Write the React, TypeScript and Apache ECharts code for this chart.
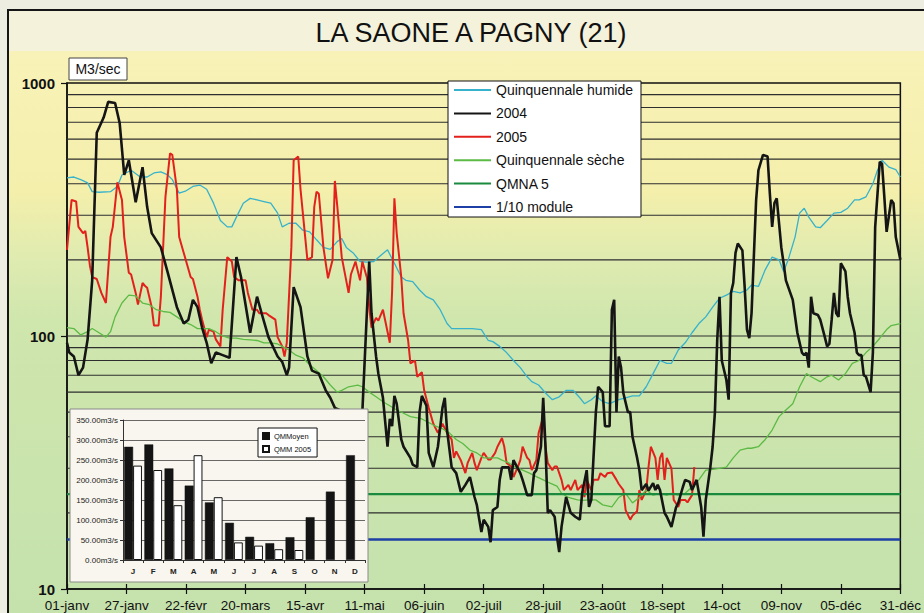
import React, { useEffect, useRef } from 'react';
import * as echarts from 'echarts';

const FONT = 'Liberation Sans, Arial, Helvetica, sans-serif';

const titleText = 'LA SAONE A PAGNY (21)';
const unitText = 'M3/sec';
const tickLabels = ['01-janv', '27-janv', '22-févr', '20-mars', '15-avr', '11-mai', '06-juin', '02-juil', '28-juil', '23-août', '18-sept', '14-oct', '09-nov', '05-déc', '31-déc'];
const dayMax = 364;
const tickStep = 26;
const gridValues = [20, 30, 40, 50, 60, 70, 80, 90, 100, 200, 300, 400, 500, 600, 700, 800, 900];

const qmna5 = 23.7;
const module10 = 15.7;

const humide: [number, number][] = [[0,422],[3,425],[6,415],[9,403],[11,372],[14,370],[19,372],[22,390],[24,433],[28,452],[32,425],[35,425],[38,441],[41,445],[44,433],[46,415],[49,367],[52,375],[55,390],[58,395],[61,380],[64,335],[67,286],[70,270],[72,270],[74,295],[77,335],[80,350],[83,345],[86,340],[89,335],[92,306],[94,270],[97,279],[100,279],[103,262],[106,258],[109,240],[112,224],[115,220],[118,236],[120,243],[122,224],[125,213],[128,197],[131,196],[134,197],[137,208],[140,219],[143,194],[146,171],[148,166],[151,164],[154,152],[157,143],[160,139],[163,127],[166,112],[168,107],[173,107],[177,107],[181,106],[184,96],[186,95],[189,91],[192,86],[195,80],[198,75],[201,69],[203,66],[206,64],[209,59.5],[212,56],[215,57.5],[218,61],[221,61],[224,57],[226,54],[229,56],[231,58],[234,55],[237,54],[241,56],[244,57],[247,58],[250,58],[253,63],[256,71],[259,80],[262,78],[264,78],[267,88],[270,94],[273,103],[276,112],[279,119],[282,130],[285,141],[288,145],[291,150],[294,148],[297,152],[299,159],[302,157],[305,183],[308,205],[311,200],[313,180],[315,200],[318,246],[320,306],[322,320],[324,295],[327,270],[329,268],[332,286],[335,306],[338,308],[341,320],[344,345],[346,345],[349,355],[352,400],[354,452],[356,495],[359,465],[362,455],[364,425]];

const y2004: [number, number][] = [[0,94],[1,86],[3,83],[5,70],[7,75],[9,97],[11,166],[13,636],[16,730],[18,842],[21,834],[23,695],[25,433],[27,495],[30,338],[33,465],[35,324],[37,255],[41,224],[44,178],[48,130],[51,112],[53,116],[55,139],[57,130],[59,108],[61,94],[63,78],[65,86],[68,84],[71,82],[74,205],[76,171],[80,103],[83,143],[85,123],[88,99],[92,83],[94,79],[96,70],[97,75],[99,156],[102,130],[105,83],[107,73],[110,71],[113,61],[115,57],[117,52],[119,51],[122,47],[127,46],[129,50],[132,197],[133,123],[135,83],[136,71],[138,57],[140,36.5],[141,47],[142,44],[143,58],[144,54],[146,39],[147,36.5],[150,33],[151,31],[153,30.3],[154,50],[155,58],[157,53],[158,34.5],[160,30.3],[162,36.5],[164,52],[165,57],[166,42.5],[168,30.3],[170,28.7],[172,24.2],[174,25.8],[176,27.7],[178,23.1],[179,21.5],[181,16.8],[182,18.8],[184,17.6],[185,15.3],[186,20.5],[188,21.1],[189,27],[190,30.3],[193,30.3],[194,27],[195,32.3],[198,28.7],[199,27],[201,23.5],[203,23.5],[204,28.7],[205,29.5],[207,36.5],[208,57],[209,36.5],[210,20],[211,20.5],[213,19.3],[214,16.1],[215,14],[216,17.6],[218,23.1],[220,20],[222,19.3],[224,18.8],[225,23.9],[227,29.5],[228,21.1],[229,22.5],[231,50],[232,63],[234,60],[235,44],[237,44],[238,127],[239,139],[240,50],[241,83],[242,75],[243,59.5],[245,50],[246,50],[247,40],[249,33],[250,29.5],[251,24.6],[253,26],[254,24.5],[256,26.2],[257,24.6],[258,25.8],[259,24.6],[261,20],[262,19.3],[264,17.6],[266,21],[267,21.9],[269,25.3],[270,27],[272,26.5],[273,24.6],[275,27],[276,23.9],[277,21.1],[278,16.1],[279,22.5],[281,30.3],[282,36.5],[283,50],[284,96],[285,143],[286,80],[288,67],[289,56],[290,148],[291,162],[292,213],[293,232],[295,218],[296,156],[297,106],[298,98],[299,123],[301,344],[302,452],[304,520],[306,512],[307,365],[308,270],[309,335],[310,350],[312,224],[313,194],[314,166],[317,139],[319,103],[321,86],[322,84],[323,86],[324,75],[325,143],[326,123],[328,121],[329,116],[331,99],[332,91],[333,93],[334,116],[335,148],[336,123],[337,119],[338,194],[340,180],[341,143],[342,123],[344,103],[345,86],[346,84],[347,84],[348,70],[349,69],[351,60],[352,86],[353,270],[355,488],[356,480],[357,355],[358,258],[360,345],[361,335],[362,246],[364,200]];

const y2005: [number, number][] = [[0,219],[2,345],[4,340],[5,270],[7,255],[8,260],[9,224],[10,190],[11,171],[13,168],[15,148],[17,135],[19,246],[20,270],[22,405],[24,345],[25,246],[27,178],[28,175],[30,148],[31,133],[33,162],[34,158],[35,155],[37,130],[38,110],[40,110],[41,143],[43,355],[45,527],[46,520],[48,380],[49,246],[51,213],[54,171],[55,168],[57,143],[58,127],[59,116],[61,99],[62,106],[64,104],[65,97],[67,91],[68,127],[70,205],[72,197],[73,171],[75,166],[78,166],[79,148],[81,127],[83,127],[84,123],[87,123],[88,121],[91,116],[92,99],[94,91],[95,83],[96,94],[98,224],[99,495],[101,512],[102,380],[105,200],[107,205],[108,324],[109,372],[110,365],[112,224],[114,169],[116,200],[117,410],[118,330],[120,205],[123,148],[124,175],[126,197],[128,166],[129,197],[131,170],[132,130],[133,108],[135,118],[136,115],[138,127],[140,104],[141,94],[142,150],[143,350],[144,255],[146,171],[147,123],[149,96],[150,78],[152,80],[153,69],[155,72],[156,61],[158,52],[160,45],[162,41.4],[164,45],[166,41.4],[168,39],[169,33],[170,35],[172,32.3],[174,28.7],[175,31.5],[177,34.5],[178,31.5],[179,29.5],[181,33],[182,34.5],[184,32.5],[185,32.5],[187,34.5],[188,36.5],[190,39.5],[191,36.5],[192,31.5],[194,30.5],[195,27.7],[197,30.5],[198,32.3],[199,36.5],[201,33],[202,32.3],[203,29.5],[205,32.3],[206,41.4],[208,48],[209,36.5],[210,31.5],[212,29.5],[213,30.5],[214,30.5],[216,27],[217,24.6],[219,25.8],[220,24.6],[222,27],[223,24.6],[225,25.8],[226,23.1],[227,27],[229,24.6],[230,27],[232,27],[233,28.7],[235,27.7],[236,28.7],[238,28.9],[240,27],[241,26],[243,24.6],[244,20.5],[246,18.8],[247,19.5],[249,20.3],[250,24.6],[251,22.5],[253,24.6],[254,30.3],[255,36.5],[257,33],[258,27],[259,33],[260,34.5],[261,27],[262,33],[264,30],[265,22.5],[267,21.1],[268,22.5],[270,22.5],[271,22],[273,23.5],[274,30.3]];

const seche: [number, number][] = [[0,108],[3,107],[6,101],[9,104],[11,107],[14,103],[17,99],[19,104],[21,119],[24,135],[27,145],[30,144],[33,135],[36,133],[39,127],[42,125],[45,124],[48,119],[51,114],[54,111],[57,107],[59,107],[62,107],[65,104],[68,100],[71,98],[74,98],[77,97],[80,96.5],[83,96],[86,94],[89,94],[92,93],[94,91],[97,88],[100,84],[103,82],[106,77],[109,73],[112,69],[115,64],[118,60],[120,61],[123,63],[127,64],[129,63],[132,60],[135,57.5],[138,55],[141,53],[144,51],[147,49.5],[150,48],[153,47.5],[155,47],[158,45.5],[161,44],[164,43],[167,41.4],[170,39],[173,37.5],[176,35.4],[179,34.5],[182,33],[185,33],[188,33],[190,32.3],[193,31.5],[196,30.3],[199,29.5],[202,28.7],[205,27.8],[208,27],[211,26.2],[214,25.5],[216,23.9],[219,23],[223,22.5],[225,22.4],[228,22.5],[231,22.5],[234,21.5],[236,21.3],[238,21.1],[241,23],[244,23.9],[247,21.9],[250,23],[253,24.6],[256,23.5],[259,23.9],[262,23.5],[264,23.9],[267,23.5],[270,23.9],[273,25.3],[276,27],[279,29.5],[282,29.7],[285,30],[288,30.3],[291,33],[294,35.4],[297,36],[299,36],[302,36.5],[305,39],[308,42.5],[311,48],[314,51],[317,54],[320,63],[323,71],[325,69],[329,66],[332,69],[334,70],[337,67],[340,71],[343,78],[346,80],[349,86],[352,91],[355,98],[358,106],[360,110],[364,112]];

// Inset monthly chart
const monthKeys = ['janv', 'févr', 'mars', 'avr', 'mai', 'juin', 'juil', 'août', 'sept', 'oct', 'nov', 'déc'];
const monthInitials = ['J', 'F', 'M', 'A', 'M', 'J', 'J', 'A', 'S', 'O', 'N', 'D'];
const qmMoyen = [283, 289, 229, 186, 144, 93, 58, 42, 57, 107, 171, 262];
const qmm2005 = [236, 225, 137, 262, 157, 44, 36, 27, 25, null, null, null];

const S_HUMIDE = 'Quinquennale humide';
const S_2004 = '2004';
const S_2005 = '2005';
const S_SECHE = 'Quinquennale sèche';
const S_QMNA = 'QMNA 5';
const S_MOD = '1/10 module';

export default function App() {
  const ref = useRef<HTMLDivElement>(null);

  useEffect(() => {
    if (!ref.current) return;
    const chart = echarts.init(ref.current, null, { renderer: 'svg' });

    const gridLineData: any[] = [];
    gridValues.forEach((v) => {
      gridLineData.push([0, v], [dayMax, v], [dayMax, '-']);
    });

    const option: any = {
      animation: false,
      textStyle: { fontFamily: FONT },
      graphic: [
        { type: 'rect', z: -10, silent: true, shape: { x: 0, y: 0, width: 924, height: 613 }, style: { fill: '#eeede2' } },
        { type: 'rect', z: -9, silent: true, shape: { x: 8, y: 10, width: 916, height: 41 }, style: { fill: '#f5f2dc' } },
        {
          type: 'rect', z: -9, silent: true, shape: { x: 8, y: 51, width: 916, height: 562 },
          style: {
            fill: new echarts.graphic.LinearGradient(0, 0, 0, 1, [
              { offset: 0, color: '#f8f2b8' },
              { offset: 0.25, color: '#f4efab' },
              { offset: 0.37, color: '#dfebb0' },
              { offset: 0.48, color: '#cfe6ad' },
              { offset: 1, color: '#c5e2ad' },
            ]),
          },
        },
        { type: 'polyline', z: -8, silent: true, shape: { points: [[8, 613], [8, 10], [924, 10]] }, style: { stroke: '#151515', lineWidth: 2, fill: 'none' } },
        {
          type: 'text', z: 5, x: 471, y: 33,
          style: { text: titleText, fontSize: 27, fontFamily: FONT, fill: '#111', align: 'center', verticalAlign: 'middle' },
        },
        { type: 'rect', z: 5, shape: { x: 69, y: 58, width: 58, height: 22 }, style: { fill: '#ffffff', stroke: '#444', lineWidth: 1 } },
        {
          type: 'text', z: 6, x: 98, y: 69,
          style: { text: unitText, fontSize: 14, fontFamily: FONT, fill: '#111', align: 'center', verticalAlign: 'middle' },
        },
        { type: 'rect', z: 20, shape: { x: 70, y: 409, width: 298, height: 173 }, style: { fill: '#f8f6ee', stroke: '#8a8a8a', lineWidth: 1 } },
      ],
      legend: [
        {
          data: [S_HUMIDE, S_2004, S_2005, S_SECHE, S_QMNA, S_MOD],
          orient: 'vertical',
          left: 448,
          top: 81,
          itemWidth: 37,
          itemHeight: 14,
          itemGap: 9.4,
          padding: [2, 8, 3, 5],
          backgroundColor: '#ffffff',
          borderColor: '#111',
          borderWidth: 1,
          borderRadius: 0,
          z: 30,
          itemStyle: { opacity: 0 },
          textStyle: { fontSize: 14, color: '#111', fontFamily: FONT },
          selectedMode: false,
        },
        {
          data: ['QMMoyen', 'QMM 2005'],
          orient: 'vertical',
          left: 258,
          top: 428,
          itemWidth: 6,
          itemHeight: 6,
          itemGap: 5,
          icon: 'rect',
          padding: [4, 6, 4, 4],
          backgroundColor: '#ffffff',
          borderColor: '#111',
          borderWidth: 1,
          z: 40,
          textStyle: { fontSize: 7.5, color: '#111', fontFamily: FONT },
          selectedMode: false,
        },
      ],
      grid: [
        { left: 67, top: 83, width: 835, height: 506, show: true, borderColor: '#111', borderWidth: 1.5, backgroundColor: 'transparent' },
        { left: 123, top: 420, width: 242, height: 140, z: 25 },
      ],
      xAxis: [
        {
          type: 'value', gridIndex: 0, min: 0, max: dayMax, interval: tickStep,
          axisLine: { show: true, lineStyle: { color: '#111', width: 1.5 } },
          axisTick: { show: true, length: 5, lineStyle: { color: '#111', width: 1.2 } },
          axisLabel: {
            margin: 9, fontSize: 13.5, color: '#111', fontFamily: FONT,
            formatter: (v: number) => tickLabels[Math.round(v / tickStep)] ?? '',
          },
          splitLine: { show: false },
        },
        {
          type: 'value', gridIndex: 0, min: 0, max: dayMax, interval: tickStep, position: 'bottom',
          axisLine: { show: false },
          axisTick: { show: true, inside: true, length: 5, lineStyle: { color: '#111', width: 1.2 } },
          axisLabel: { show: false },
          splitLine: { show: false },
        },
        {
          type: 'category', gridIndex: 1, data: monthKeys, z: 26,
          axisLine: { show: true, lineStyle: { color: '#333', width: 1 } },
          axisTick: { show: true, length: 3, lineStyle: { color: '#333' } },
          axisLabel: {
            margin: 7, fontSize: 8, fontWeight: 'bold', color: '#222', fontFamily: FONT,
            formatter: (v: string) => monthInitials[monthKeys.indexOf(v)] ?? '',
          },
        },
      ],
      yAxis: [
        {
          type: 'log', gridIndex: 0, min: 10, max: 1000, logBase: 10,
          axisLine: { show: true, lineStyle: { color: '#111', width: 1.5 } },
          axisTick: { show: true, length: 6, lineStyle: { color: '#111', width: 1.2 } },
          axisLabel: {
            margin: 12, fontSize: 15, fontWeight: 'bold', color: '#111', fontFamily: FONT,
            formatter: (v: number) => String(Math.round(v)),
          },
          splitLine: { show: false },
        },
        {
          type: 'value', gridIndex: 1, min: 0, max: 350, interval: 50, z: 26,
          axisLine: { show: true, lineStyle: { color: '#333', width: 1 } },
          axisTick: { show: true, length: 3, lineStyle: { color: '#333' } },
          axisLabel: {
            margin: 5, fontSize: 8, color: '#222', fontFamily: FONT,
            formatter: (v: number) => v.toFixed(2) + 'm3/s',
          },
          splitLine: { show: true, lineStyle: { color: '#444', width: 0.8 } },
        },
      ],
      series: [
        {
          name: 'grid', type: 'line', xAxisIndex: 0, yAxisIndex: 0, data: gridLineData, symbol: 'none', silent: true, z: 1,
          connectNulls: false, lineStyle: { color: '#2e2e2e', width: 1.1 },
        },
        {
          name: S_HUMIDE, type: 'line', xAxisIndex: 0, yAxisIndex: 0, data: humide, symbol: 'none', z: 3,
          lineStyle: { color: '#36b2cc', width: 1.3 }, itemStyle: { color: '#36b2cc' },
        },
        {
          name: S_2004, type: 'line', xAxisIndex: 0, yAxisIndex: 0, data: y2004, symbol: 'none', z: 4,
          lineStyle: { color: '#151515', width: 2.6 }, itemStyle: { color: '#151515' },
        },
        {
          name: S_2005, type: 'line', xAxisIndex: 0, yAxisIndex: 0, data: y2005, symbol: 'none', z: 3,
          lineStyle: { color: '#e3211c', width: 2 }, itemStyle: { color: '#e3211c' },
        },
        {
          name: S_SECHE, type: 'line', xAxisIndex: 0, yAxisIndex: 0, data: seche, symbol: 'none', z: 3,
          lineStyle: { color: '#5dba45', width: 1.3 }, itemStyle: { color: '#5dba45' },
        },
        {
          name: S_QMNA, type: 'line', xAxisIndex: 0, yAxisIndex: 0, data: [[0, qmna5], [dayMax, qmna5]], symbol: 'none', z: 3,
          lineStyle: { color: '#1a8a3e', width: 2.2 }, itemStyle: { color: '#1a8a3e' },
        },
        {
          name: S_MOD, type: 'line', xAxisIndex: 0, yAxisIndex: 0, data: [[0, module10], [dayMax, module10]], symbol: 'none', z: 3,
          lineStyle: { color: '#1d3fa6', width: 2.6 }, itemStyle: { color: '#1d3fa6' },
        },
        {
          name: 'QMMoyen', type: 'bar', xAxisIndex: 2, yAxisIndex: 1, data: qmMoyen, z: 27,
          barGap: '0%', barCategoryGap: '12%',
          itemStyle: { color: '#141414', borderColor: '#141414', borderWidth: 0.5 },
        },
        {
          name: 'QMM 2005', type: 'bar', xAxisIndex: 2, yAxisIndex: 1, data: qmm2005, z: 27,
          barGap: '0%', barCategoryGap: '12%',
          itemStyle: { color: '#ffffff', borderColor: '#141414', borderWidth: 1 },
        },
      ],
    };

    chart.setOption(option);
    return () => chart.dispose();
  }, []);

  return (
    <div
      ref={ref}
      style={{ position: 'absolute', left: 0, top: 0, width: 924, height: 613 }}
    />
  );
}
